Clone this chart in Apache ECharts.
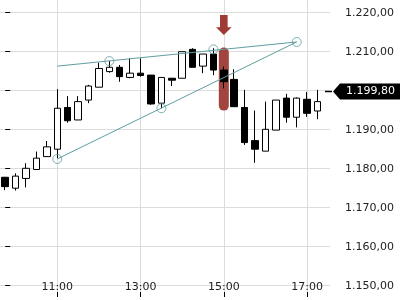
<!DOCTYPE html>
<html>
<head>
<meta charset="utf-8">
<script src="https://cdn.jsdelivr.net/npm/echarts@6/dist/echarts.min.js"></script>
<style>html,body{margin:0;padding:0;background:#fff;}#c{width:400px;height:300px;}</style>
</head>
<body>
<div id="c"></div>
<script>
const times = ['09:45','10:00','10:15','10:30','10:45','11:00','11:15','11:30','11:45','12:00','12:15','12:30','12:45','13:00','13:15','13:30','13:45','14:00','14:15','14:30','14:45','15:00','15:15','15:30','15:45','16:00','16:15','16:30','16:45','17:00','17:15'];
const opens  = [1177.8,1175.0,1177.5,1179.8,1183.1,1185.0,1195.7,1192.5,1197.6,1200.9,1204.9,1206.0,1203.4,1204.5,1204.0,1196.8,1203.2,1203.2,1210.6,1206.3,1209.4,1205.3,1202.9,1195.7,1187.2,1184.5,1189.9,1198.1,1193.2,1197.8,1194.8];
const closes = [1175.4,1178.1,1180.1,1182.7,1185.6,1195.5,1192.3,1197.2,1201.2,1205.7,1206.0,1203.6,1204.5,1203.9,1196.6,1203.4,1202.7,1210.0,1206.0,1209.4,1205.3,1202.3,1195.9,1186.7,1185.0,1190.1,1197.6,1193.2,1198.1,1194.2,1197.2];
const lows   = [1174.5,1174.4,1175.2,1179.7,1183.0,1182.7,1191.8,1192.5,1196.8,1200.9,1204.6,1202.3,1203.2,1203.6,1196.4,1195.5,1201.2,1203.2,1206.0,1204.5,1204.0,1200.6,1195.9,1186.1,1181.5,1184.5,1189.9,1191.8,1190.6,1193.3,1192.7];
const highs  = [1177.9,1178.8,1181.4,1184.4,1187.1,1200.4,1198.6,1198.6,1201.5,1207.2,1207.6,1206.6,1208.3,1208.3,1204.0,1203.4,1203.2,1210.0,1210.9,1209.4,1210.9,1206.2,1205.5,1200.2,1194.9,1197.2,1197.6,1199.2,1198.3,1199.7,1200.2];

const xTickLabels = ['11:00','13:00','15:00','17:00'];
const yTickValues = [1150, 1160, 1170, 1180, 1190, 1200, 1210, 1220];
const trendUpper = [['11:00',1206.3],['16:45',1212.5]];
const trendLower = [['11:00',1182.5],['16:45',1212.5]];
const trendPoints = [['11:00',1182.5],['12:15',1207.6],['13:30',1195.5],['14:45',1210.6],['16:45',1212.5]];
const highlightTime = '15:00';
const highlightRange = [1211.1, 1194.9];
const arrowLevels = [1219.4, 1216.3, 1214.3];
const lastPrice = 1199.8;

const idx = t => times.indexOf(t);
const fmtNum = v => {
  const s = v.toFixed(2).split('.');
  return s[0].replace(/\B(?=(\d{3})+(?!\d))/g, '.') + ',' + s[1];
};
const FONT = 'DejaVu Sans';
const TEAL = '#5f9ea0';
const RED = '#9e3b35';

const candleData = times.map((t, i) => [i, opens[i], closes[i], lows[i], highs[i]]);
const tickIdx = xTickLabels.map(idx);

const chart = echarts.init(document.getElementById('c'), null, {renderer: 'canvas'});
chart.setOption({
  animation: false,
  backgroundColor: '#fff',
  grid: {left: 0, right: 70, top: 0, bottom: 3, containLabel: false},
  xAxis: {
    type: 'value', min: -0.5, max: 31.2,
    axisLine: {show: false},
    axisTick: {show: true, inside: true, length: 5, customValues: tickIdx, lineStyle: {color: '#000'}},
    axisLabel: {inside: true, margin: 4, customValues: tickIdx, formatter: v => times[Math.round(v)], color: '#222', fontFamily: FONT, fontSize: 11},
    splitLine: {show: true, lineStyle: {color: '#dcdcdc', width: 1}}
  },
  yAxis: {
    type: 'value', position: 'right', min: 1147.1, max: 1223.26,
    offset: 3,
    axisLine: {show: false},
    axisTick: {show: true, length: 5, customValues: yTickValues, lineStyle: {color: '#000'}},
    axisLabel: {margin: 12, customValues: yTickValues, formatter: fmtNum, color: '#222', fontFamily: FONT, fontSize: 11},
    splitLine: {show: true, lineStyle: {color: '#dcdcdc', width: 1}}
  },
  series: [
    {
      type: 'custom', z: 2, clip: false,
      data: [[idx(highlightTime), highlightRange[0], highlightRange[1]]],
      encode: {x: 0, y: [1, 2]},
      renderItem: (params, api) => {
        const p1 = api.coord([api.value(0), api.value(1)]);
        const p2 = api.coord([api.value(0), api.value(2)]);
        const w = 10;
        return {type: 'rect', shape: {x: p1[0] - w / 2, y: p1[1], width: w, height: p2[1] - p1[1], r: 5}, style: {fill: RED, opacity: 0.95}};
      }
    },
    {
      type: 'custom', z: 2, clip: false,
      data: [[idx(highlightTime), arrowLevels[0], arrowLevels[1], arrowLevels[2]]],
      encode: {x: 0, y: [1, 2, 3]},
      renderItem: (params, api) => {
        const x = api.coord([api.value(0), api.value(1)])[0];
        const y0 = api.coord([api.value(0), api.value(1)])[1];
        const y1 = api.coord([api.value(0), api.value(2)])[1];
        const y2 = api.coord([api.value(0), api.value(3)])[1];
        const sw = 3.8, hw = 7.8;
        return {type: 'polygon', shape: {points: [[x - sw, y0], [x + sw, y0], [x + sw, y1], [x + hw, y1], [x, y2], [x - hw, y1], [x - sw, y1]]}, style: {fill: RED}};
      }
    },
    {
      type: 'candlestick', z: 3,
      data: candleData,
      encode: {x: 0, y: [1, 2, 3, 4]},
      barWidth: 7,
      itemStyle: {color: '#ffffff', color0: '#000000', borderColor: '#000000', borderColor0: '#000000', borderWidth: 1}
    },
    {
      type: 'line', z: 4, symbol: 'none',
      data: trendUpper.map(p => [idx(p[0]), p[1]]),
      lineStyle: {color: TEAL, width: 1}
    },
    {
      type: 'line', z: 4, symbol: 'none',
      data: trendLower.map(p => [idx(p[0]), p[1]]),
      lineStyle: {color: TEAL, width: 1}
    },
    {
      type: 'scatter', z: 5, symbol: 'circle', symbolSize: 9,
      data: trendPoints.map(p => [idx(p[0]), p[1]]),
      itemStyle: {color: 'rgba(255,255,255,0)', borderColor: TEAL, borderWidth: 1}
    },
    {
      type: 'custom', z: 10, clip: false,
      data: [[times.length - 1, lastPrice]],
      encode: {x: 0, y: 1},
      renderItem: (params, api) => {
        const y = Math.round(api.coord([api.value(0), api.value(1)])[1]) + 0.5;
        const R = params.coordSys.x + params.coordSys.width;
        return {type: 'group', children: [
          {type: 'line', shape: {x1: R - 5, y1: y, x2: R + 2, y2: y}, style: {stroke: '#000', lineWidth: 1.5}},
          {type: 'polygon', shape: {points: [[R + 3, y], [R + 10, y - 8], [R + 70, y - 8], [R + 70, y + 8], [R + 10, y + 8]]}, style: {fill: '#000'}},
          {type: 'text', x: R + 16, y: y, style: {text: fmtNum(api.value(1)), fill: '#fff', font: '11px "' + FONT + '"', verticalAlign: 'middle', align: 'left'}}
        ]};
      }
    }
  ]
});
</script>
</body>
</html>
